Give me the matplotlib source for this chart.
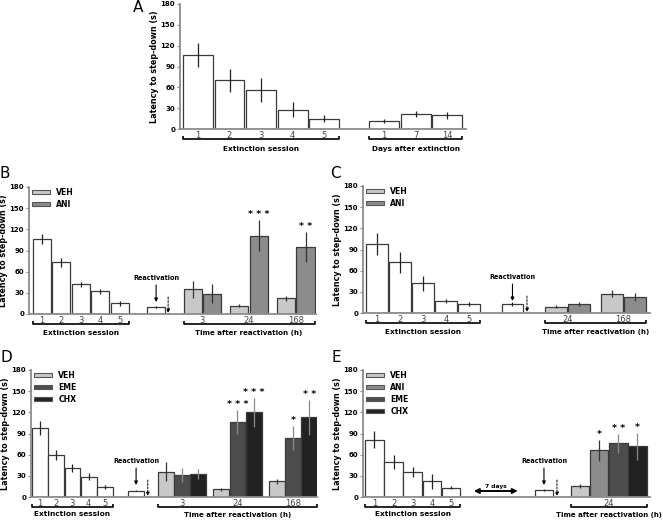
import numpy as np
import matplotlib
matplotlib.use("Agg")
import matplotlib.pyplot as plt
from matplotlib.patches import Patch
from matplotlib.transforms import ScaledTranslation

plt.rcParams['font.family'] = ['DejaVu Sans']

# ---------------- data ----------------
ext_labels = ['1', '2', '3', '4', '5']

A_ext = [107, 70, 56, 28, 15]
A_ext_err = [17, 17, 17, 11, 5]
A_day_labels = ['1', '7', '14']
A_days = [11, 22, 20]
A_days_err = [3, 4, 5]

B_ext = [106, 73, 42, 32, 15]
B_ext_err = [7, 6, 4, 4, 3]
B_react, B_react_err = 10, 2
B_time_labels = ['3', '24', '168']
B_veh = [35, 12, 22]
B_veh_err = [12, 2, 4]
B_ani = [29, 111, 95]
B_ani_err = [13, 22, 21]
B_ani_sig = ['', '***', '**']

C_ext = [98, 72, 42, 17, 13]
C_ext_err = [16, 15, 11, 3, 3]
C_react, C_react_err = 13, 3
C_time_labels = ['24', '168']
C_veh = [9, 27]
C_veh_err = [2, 5]
C_ani = [13, 23]
C_ani_err = [3, 6]

D_ext = [98, 59, 41, 29, 14]
D_ext_err = [10, 7, 6, 5, 3]
D_react, D_react_err = 9, 1
D_time_labels = ['3', '24', '168']
D_veh = [36, 11, 22]
D_veh_err = [14, 2, 4]
D_eme = [31, 107, 84]
D_eme_err = [10, 17, 17]
D_chx = [32, 120, 113]
D_chx_err = [7, 21, 25]
D_eme_sig = ['', '***', '*']
D_chx_sig = ['', '***', '**']

E_ext = [81, 50, 35, 22, 13]
E_ext_err = [12, 10, 7, 11, 2]
E_react, E_react_err = 10, 2
E_time_labels = ['24']
E_groups = ['VEH', 'ANI', 'EME', 'CHX']
E_vals = [16, 66, 76, 72]
E_errs = [3, 15, 14, 19]
E_sig = ['', '*', '**', '*']

yticks = [0, 30, 60, 90, 120, 150, 180]
ylabel = 'Latency to step-down (s)'
ext_title = 'Extinction session'
days_title = 'Days after extinction'
time_title = 'Time after reactivation (h)'

COL = {'VEH': '#c8c8c8', 'ANI': '#8c8c8c', 'EME': '#4d4d4d', 'CHX': '#222222', 'EXT': 'white'}
ERRC = {'VEH': '#333333', 'ANI': '#333333', 'EME': '#8a8a8a', 'CHX': '#8a8a8a', 'EXT': '#222222'}
EDGE = '#3a3a3a'

W, H = 663, 520
fig = plt.figure(figsize=(W / 100, H / 100), dpi=100)


def add_ax(l, r, t, b):
    ax = fig.add_axes([l / W, 1 - b / H, (r - l) / W, (b - t) / H])
    for s in ['top', 'right']:
        ax.spines[s].set_visible(False)
    for s in ['left', 'bottom']:
        ax.spines[s].set_color('#8c8c8c')
        ax.spines[s].set_linewidth(1.3)
    ax.set_ylim(0, 180)
    ax.set_yticks(yticks)
    ax.set_yticklabels([str(v) for v in yticks], fontsize=5, fontweight='bold')
    ax.tick_params(axis='y', length=2, width=0.8, color='#8c8c8c', pad=1.5)
    ax.tick_params(axis='x', length=0, pad=1.5, labelsize=6, labelcolor='#444444')
    ax.set_ylabel(ylabel, fontsize=5.8, fontweight='bold', labelpad=1)
    ax.patch.set_alpha(0)
    return ax


def bars(ax, pos, vals, errs, kind, width):
    ax.bar(pos, vals, width=width, color=COL[kind], edgecolor=EDGE, linewidth=0.9, zorder=2)
    ax.errorbar(pos, vals, yerr=errs, fmt='none', ecolor=ERRC[kind], elinewidth=0.9,
                capsize=0, zorder=3)


def bracket(ax, x0, x1, title, off_line=10, off_text=19, size=5.3):
    tr = ax.get_xaxis_transform() + ScaledTranslation(0, -off_line / 100, fig.dpi_scale_trans)
    up = 3 / 127
    ax.plot([x0, x0, x1, x1], [up, 0, 0, up], transform=tr, color='black', lw=1.2,
            clip_on=False, solid_capstyle='butt')
    tr2 = ax.get_xaxis_transform() + ScaledTranslation(0, -off_text / 100, fig.dpi_scale_trans)
    ax.text((x0 + x1) / 2, 0, title, transform=tr2, ha='center', va='center',
            fontsize=size, fontweight='bold')


def stars(ax, pos, vals, errs, sig):
    for p, v, e, s in zip(pos, vals, errs, sig):
        if s:
            ax.text(p, v + e + 1, ' '.join(s), ha='center', va='bottom', fontsize=6.8,
                    fontweight='bold')


def reactivation(ax, pos, arrow_pos):
    ax.text(pos, 51, 'Reactivation', ha='center', va='center', fontsize=4.7, fontweight='bold')
    ax.annotate('', xy=(pos, 17), xytext=(pos, 41),
                arrowprops=dict(arrowstyle='-|>', color='black', lw=0.8, mutation_scale=5,
                                shrinkA=0, shrinkB=0))
    ax.annotate('', xy=(arrow_pos, 1.5), xytext=(arrow_pos, 24),
                arrowprops=dict(arrowstyle='-|>', color='black', lw=0.7, mutation_scale=5,
                                linestyle=(0, (2, 1.5)), shrinkA=0, shrinkB=0))


def legend(ax, names):
    handles = [Patch(facecolor=COL[n], edgecolor='#555555', linewidth=0.8) for n in names]
    ax.legend(handles, names, loc='upper left', bbox_to_anchor=(0.0, 1.02), frameon=False,
              handlelength=2.3, handleheight=0.5, labelspacing=0.4, handletextpad=0.8,
              borderaxespad=0, prop={'size': 5.6, 'weight': 'bold'})


def panel_label(x, y, s):
    fig.text(x / W, 1 - y / H, s, ha='center', va='center', fontsize=11)


ext_pos = np.arange(len(ext_labels), dtype=float)

# ---------------- A ----------------
axA = add_ax(180, 466, 4, 129)
wA = 0.95
day_pos = 5.9 + np.arange(len(A_days))
bars(axA, ext_pos, A_ext, A_ext_err, 'EXT', wA)
bars(axA, day_pos, A_days, A_days_err, 'EXT', wA)
axA.set_xlim(-0.57, 8.5)
axA.set_xticks(list(ext_pos) + list(day_pos))
axA.set_xticklabels(ext_labels + A_day_labels)
bracket(axA, ext_pos[0] - wA / 2, ext_pos[-1] + wA / 2, ext_title, 10, 20)
bracket(axA, day_pos[0] - wA / 2, day_pos[-1] + wA / 2, days_title, 10, 20)
panel_label(138, 8, 'A')

# ---------------- B ----------------
axB = add_ax(29, 316, 187, 314)
wB = 0.93
bars(axB, ext_pos, B_ext, B_ext_err, 'EXT', wB)
rB = 5.88
bars(axB, [rB], [B_react], [B_react_err], 'EXT', wB)
reactivation(axB, rB, 6.5)
gB = 7.76 + 2.41 * np.arange(len(B_time_labels))
bars(axB, gB, B_veh, B_veh_err, 'VEH', wB)
bars(axB, gB + 1, B_ani, B_ani_err, 'ANI', wB)
stars(axB, gB + 1, B_ani, B_ani_err, B_ani_sig)
axB.set_xlim(-0.67, 14.12)
axB.set_xticks(list(ext_pos) + list(gB + 0.5))
axB.set_xticklabels(ext_labels + B_time_labels)
bracket(axB, -wB / 2, 4 + wB / 2, ext_title)
bracket(axB, gB[0] - wB / 2, gB[-1] + 1 + wB / 2, time_title, size=5.1)
legend(axB, ['VEH', 'ANI'])
panel_label(5, 174, 'B')

# ---------------- C ----------------
axC = add_ax(363, 650, 186, 313)
wC = 0.95
bars(axC, ext_pos, C_ext, C_ext_err, 'EXT', wC)
rC = 5.89
bars(axC, [rC], [C_react], [C_react_err], 'EXT', wC)
reactivation(axC, rC, 6.52)
gC = 7.78 + 2.42 * np.arange(len(C_time_labels))
bars(axC, gC, C_veh, C_veh_err, 'VEH', wC)
bars(axC, gC + 1, C_ani, C_ani_err, 'ANI', wC)
axC.set_xlim(-0.61, 11.87)
axC.set_xticks(list(ext_pos) + list(gC + 0.5))
axC.set_xticklabels(ext_labels + C_time_labels)
bracket(axC, -wC / 2, 4 + wC / 2, ext_title)
bracket(axC, gC[0] - wC / 2, gC[-1] + 1 + wC / 2, time_title, size=5.1)
legend(axC, ['VEH', 'ANI'])
panel_label(335, 174, 'C')

# ---------------- D ----------------
axD = add_ax(31, 317, 370, 497)
wD = 0.97
bars(axD, ext_pos, D_ext, D_ext_err, 'EXT', wD)
rD = 5.93
bars(axD, [rD], [D_react], [D_react_err], 'EXT', wD)
reactivation(axD, rD, 6.65)
gD = 7.76 + 3.43 * np.arange(len(D_time_labels))
bars(axD, gD, D_veh, D_veh_err, 'VEH', wD)
bars(axD, gD + 1, D_eme, D_eme_err, 'EME', wD)
bars(axD, gD + 2, D_chx, D_chx_err, 'CHX', wD)
stars(axD, gD + 1, D_eme, D_eme_err, D_eme_sig)
stars(axD, gD + 2, D_chx, D_chx_err, D_chx_sig)
axD.set_xlim(-0.56, 17.1)
axD.set_xticks(list(ext_pos) + list(gD + 1))
axD.set_xticklabels(ext_labels + D_time_labels)
bracket(axD, -wD / 2, 4 + wD / 2, ext_title, 10, 17.5)
bracket(axD, gD[0] - wD / 2, gD[-1] + 2 + wD / 2, time_title, 10, 17.5, size=5.1)
legend(axD, ['VEH', 'EME', 'CHX'])
panel_label(6, 358, 'D')

# ---------------- E ----------------
axE = add_ax(363, 650, 370, 497)
wE = 0.97
bars(axE, ext_pos, E_ext, E_ext_err, 'EXT', wE)
rE = 8.87
bars(axE, [rE], [E_react], [E_react_err], 'EXT', wE)
reactivation(axE, rE, 9.55)
axE.annotate('', xy=(5.2, 8.5), xytext=(7.5, 8.5),
             arrowprops=dict(arrowstyle='<|-|>', color='black', lw=1.4, mutation_scale=7,
                             shrinkA=0, shrinkB=0))
axE.text(6.35, 15, '7 days', ha='center', va='center', fontsize=4.3, fontweight='bold')
gE = 10.76 + np.arange(len(E_groups))
for p, n, v, e in zip(gE, E_groups, E_vals, E_errs):
    bars(axE, [p], [v], [e], n, wE)
stars(axE, gE, E_vals, E_errs, E_sig)
axE.set_xlim(-0.6, 14.42)
axE.set_xticks(list(ext_pos) + [gE.mean()])
axE.set_xticklabels(ext_labels + E_time_labels)
bracket(axE, -wE / 2, 4 + wE / 2, ext_title, 10, 17.5)
bracket(axE, gE[0] - wE / 2, gE[-1] + wE / 2, time_title, 10, 17.5, size=5.0)
legend(axE, E_groups)
panel_label(336, 358, 'E')

fig.savefig('out.png', dpi=100)
